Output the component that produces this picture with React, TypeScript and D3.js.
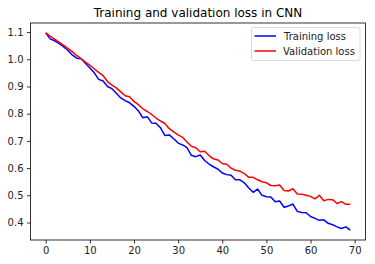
import React, { useEffect, useRef } from "react";
import * as d3 from "d3";

// loss values per epoch
const trainingLoss = [
  1.097, 1.075, 1.068, 1.058, 1.046, 1.033, 1.016, 1.004, 1.002, 0.985,
  0.968, 0.95, 0.926, 0.92, 0.9, 0.892, 0.875, 0.858, 0.848, 0.84,
  0.827, 0.81, 0.785, 0.789, 0.766, 0.765, 0.748, 0.72, 0.722, 0.708,
  0.692, 0.685, 0.675, 0.647, 0.642, 0.648, 0.628, 0.615, 0.605, 0.596,
  0.582, 0.576, 0.574, 0.557, 0.557, 0.546, 0.527, 0.511, 0.523, 0.5,
  0.495, 0.494, 0.476, 0.479, 0.456, 0.461, 0.468, 0.441, 0.437, 0.436,
  0.422, 0.415, 0.408, 0.41, 0.397, 0.392, 0.384, 0.378, 0.384, 0.372,
];
const validationLoss = [
  1.097, 1.085, 1.074, 1.063, 1.052, 1.04, 1.028, 1.014, 1.002, 0.99,
  0.978, 0.965, 0.952, 0.94, 0.918, 0.905, 0.895, 0.88, 0.866, 0.862,
  0.845, 0.833, 0.818, 0.808, 0.797, 0.784, 0.773, 0.764, 0.745, 0.733,
  0.722, 0.713, 0.696, 0.68, 0.675, 0.66, 0.662, 0.646, 0.634, 0.63,
  0.617, 0.614, 0.6, 0.592, 0.589, 0.58, 0.566, 0.566, 0.557, 0.55,
  0.546, 0.536, 0.535, 0.538, 0.518, 0.516, 0.524, 0.505, 0.504, 0.5,
  0.496, 0.487, 0.5, 0.48, 0.485, 0.484, 0.47, 0.477, 0.467, 0.467,
];
const xTicks = [0, 10, 20, 30, 40, 50, 60, 70];
const yTicks = [0.4, 0.5, 0.6, 0.7, 0.8, 0.9, 1.0, 1.1];
const seriesNames = ["Training loss", "Validation loss"];
const seriesColors = ["#0000ff", "#ff0000"];
const title = "Training and validation loss in CNN";

export default function App() {
  const ref = useRef<SVGSVGElement>(null);

  useEffect(() => {
    const width = 375,
      height = 264;
    const left = 30.5,
      right = 365.5,
      top = 23,
      bottom = 240;
    const font = "DejaVu Sans, sans-serif";

    const svg = d3.select(ref.current);
    svg.selectAll("*").remove();

    const n = trainingLoss.length;
    const allVals = trainingLoss.concat(validationLoss);
    const xPad = (n - 1) * 0.05;
    const yMin = d3.min(allVals) as number,
      yMax = d3.max(allVals) as number;
    const yPad = (yMax - yMin) * 0.05;

    const x = d3.scaleLinear().domain([-xPad, n - 1 + xPad]).range([left, right]);
    const y = d3.scaleLinear().domain([yMin - yPad, yMax + yPad]).range([bottom, top]);

    svg.append("rect").attr("width", width).attr("height", height).attr("fill", "white");

    const line = d3
      .line<number>()
      .x((d, i) => x(i))
      .y((d) => y(d));

    const clip = svg.append("clipPath").attr("id", "plotclip");
    clip.append("rect").attr("x", left).attr("y", top).attr("width", right - left).attr("height", bottom - top);

    [trainingLoss, validationLoss].forEach((s, k) => {
      svg
        .append("path")
        .datum(s)
        .attr("d", line)
        .attr("fill", "none")
        .attr("stroke", seriesColors[k])
        .attr("stroke-width", 1.5)
        .attr("stroke-linejoin", "round")
        .attr("clip-path", "url(#plotclip)");
    });

    // axes
    const xAxis = svg
      .append("g")
      .attr("transform", `translate(0,${bottom})`)
      .call(d3.axisBottom(x).tickValues(xTicks).tickSize(3.5).tickPadding(3.5).tickSizeOuter(0));
    const yAxis = svg
      .append("g")
      .attr("transform", `translate(${left},0)`)
      .call(
        d3.axisLeft(y).tickValues(yTicks).tickSize(3.5).tickPadding(3.5).tickSizeOuter(0).tickFormat(d3.format(".1f"))
      );
    [xAxis, yAxis].forEach((g) => {
      g.select(".domain").remove();
      g.selectAll(".tick line").attr("stroke", "#000").attr("stroke-width", 0.8);
      g.selectAll(".tick text").attr("fill", "#222").style("font-family", font).style("font-size", "10px");
    });

    // frame
    svg
      .append("rect")
      .attr("x", left)
      .attr("y", top)
      .attr("width", right - left)
      .attr("height", bottom - top)
      .attr("fill", "none")
      .attr("stroke", "#000")
      .attr("stroke-width", 0.8);

    svg
      .append("text")
      .attr("x", (left + right) / 2)
      .attr("y", 17)
      .attr("text-anchor", "middle")
      .style("font-family", font)
      .style("font-size", "12px")
      .attr("fill", "#000")
      .text(title);

    // legend
    const lg = svg.append("g");
    lg.append("rect")
      .attr("x", 251.5)
      .attr("y", 27.5)
      .attr("width", 108.5)
      .attr("height", 33)
      .attr("rx", 2)
      .attr("fill", "white")
      .attr("fill-opacity", 0.8)
      .attr("stroke", "#d0d0d0")
      .attr("stroke-width", 0.8);
    seriesNames.forEach((name, k) => {
      const yy = 36 + k * 15;
      lg.append("line")
        .attr("x1", 254.5)
        .attr("x2", 276)
        .attr("y1", yy)
        .attr("y2", yy)
        .attr("stroke", seriesColors[k])
        .attr("stroke-width", 1.5);
      lg.append("text")
        .attr("x", k === 0 ? 284 : 283)
        .attr("y", yy + 3.5)
        .style("font-family", font)
        .style("font-size", "10px")
        .attr("fill", "#222")
        .text(name);
    });
  }, []);

  return (
    <div style={{ margin: -8 }}>
      <svg ref={ref} width={375} height={264} style={{ display: "block" }} />
    </div>
  );
}
